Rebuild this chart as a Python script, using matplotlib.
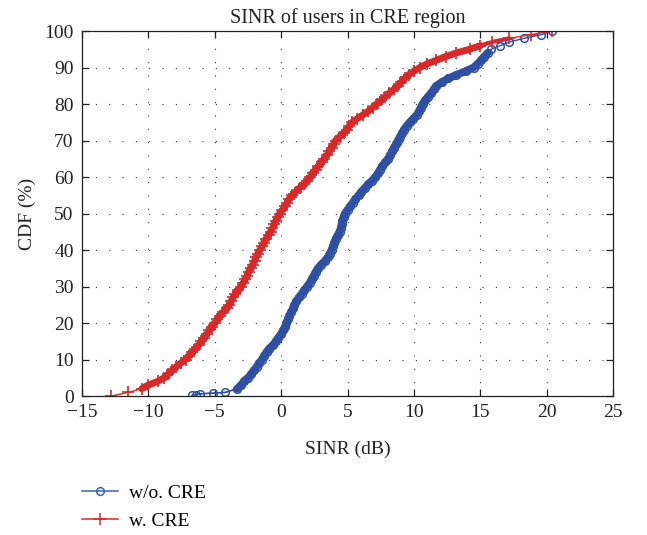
import matplotlib
matplotlib.use("Agg")
import matplotlib.pyplot as plt
from matplotlib.lines import Line2D

plt.rcParams['font.family'] = ['Liberation Serif', 'DejaVu Serif']

# ---- data (CDF in %, SINR in dB) ----
cdf_wo = [0.2, 0.4, 0.6, 0.8] + list(range(1, 101))
sinr_wo = [-6.7, -6.4, -6.1, -5.1,
           -4.2, -3.3, -3.0, -2.8, -2.5, -2.25, -2.05, -1.85, -1.65, -1.45,
           -1.3, -1.1, -0.9, -0.6, -0.4, -0.2, 0.0, 0.15, 0.3, 0.4,
           0.5, 0.6, 0.75, 0.9, 1.0, 1.15, 1.35, 1.55, 1.75, 1.95,
           2.15, 2.3, 2.45, 2.6, 2.8, 3.0, 3.3, 3.5, 3.65, 3.8,
           3.9, 4.0, 4.1, 4.25, 4.4, 4.5, 4.55, 4.6, 4.7, 4.8,
           5.0, 5.2, 5.4, 5.6, 5.85, 6.05, 6.3, 6.55, 6.85, 7.1,
           7.3, 7.45, 7.6, 7.85, 8.05, 8.2, 8.35, 8.5, 8.65, 8.8,
           8.95, 9.1, 9.25, 9.45, 9.7, 9.95, 10.2, 10.4, 10.5, 10.65,
           10.85, 11.05, 11.3, 11.5, 11.7, 12.1, 12.6, 13.2, 13.9, 14.5,
           14.8, 15.05, 15.3, 15.55, 15.8, 16.5, 17.2, 18.3, 19.6, 20.4]

cdf_w = list(range(0, 101))
sinr_w = [-12.8,
          -11.5, -10.5, -10.0, -9.3, -8.8, -8.5, -8.2, -7.9, -7.55, -7.2,
          -6.95, -6.7, -6.45, -6.2, -6.0, -5.8, -5.6, -5.4, -5.2, -5.0,
          -4.8, -4.6, -4.35, -4.1, -3.9, -3.75, -3.6, -3.45, -3.25, -3.0,
          -2.85, -2.7, -2.55, -2.45, -2.3, -2.15, -2.0, -1.9, -1.75, -1.6,
          -1.45, -1.3, -1.15, -0.95, -0.8, -0.65, -0.5, -0.4, -0.25, -0.1,
          0.1, 0.3, 0.45, 0.6, 0.85, 1.1, 1.4, 1.7, 1.95, 2.2,
          2.4, 2.6, 2.8, 3.05, 3.25, 3.45, 3.6, 3.8, 3.95, 4.1,
          4.4, 4.7, 4.95, 5.15, 5.35, 5.75, 6.15, 6.55, 6.9, 7.2,
          7.55, 7.85, 8.15, 8.5, 8.8, 9.05, 9.3, 9.6, 10.0, 10.45,
          11.0, 11.7, 12.4, 13.2, 14.2, 15.0, 15.9, 17.2, 18.8, 20.4]

series_labels = ['w/o. CRE', 'w. CRE']
x_ticks = [-15, -10, -5, 0, 5, 10, 15, 20, 25]
y_ticks = [0, 10, 20, 30, 40, 50, 60, 70, 80, 90, 100]

blue = '#2f4fa3'
red = '#d7282a'
FS = 14

fig = plt.figure(figsize=(6.47, 5.35), dpi=100)
ax = fig.add_axes([0.1267, 0.2598, 0.8208, 0.6822])

# dense band under the markers (the many overlapping samples in the original)
n_tail = 5
ax.plot(sinr_wo[n_tail:98], cdf_wo[n_tail:98], color=blue, linewidth=5.6,
        solid_capstyle='round', solid_joinstyle='round')
ax.plot(sinr_wo[:n_tail + 1], cdf_wo[:n_tail + 1], color=blue, linewidth=1.0)
ax.plot(sinr_w[2:97], cdf_w[2:97], color=red, linewidth=5.0,
        solid_capstyle='round', solid_joinstyle='round')
ax.plot(sinr_w[96:99], cdf_w[96:99], color=red, linewidth=3.0,
        solid_capstyle='round', solid_joinstyle='round')

ax.plot(sinr_wo, cdf_wo, color=blue, marker='o', markersize=5.5,
        markerfacecolor='none', markeredgewidth=1.1, linewidth=1.0)
ax.plot(sinr_w, cdf_w, color=red, marker='+', markersize=8,
        markeredgewidth=1.2, linewidth=1.0)

ax.set_xlim(-15, 25)
ax.set_ylim(0, 100)
ax.set_xticks(x_ticks)
ax.set_yticks(y_ticks)
ax.set_xticklabels(['\u2212' + str(-t) if t < 0 else str(t) for t in x_ticks])
ax.tick_params(direction='in', top=True, right=True, length=5, width=0.9,
               labelsize=FS, colors='#222222', pad=6)
for s in ax.spines.values():
    s.set_linewidth(0.9)
    s.set_color('#222222')
ax.grid(True, color='#333333', linewidth=0.8, linestyle=(0, (1, 11)))
ax.set_axisbelow(True)

ax.set_title('SINR of users in CRE region', fontsize=14.5, pad=6, color='#222222')
ax.set_xlabel('SINR (dB)', fontsize=FS, labelpad=14, color='#222222')
ax.set_ylabel('CDF (%)', fontsize=FS, labelpad=6, color='#222222')

h1 = Line2D([], [], color='#3f5fc0', marker='o', markersize=5.5,
            markerfacecolor='none', markeredgewidth=1.1, linewidth=1.1)
h2 = Line2D([], [], color=red, marker='+', markersize=8,
            markeredgewidth=1.1, linewidth=1.1)
leg = fig.legend(handles=[h1, h2], labels=series_labels, loc='upper left',
                 bbox_to_anchor=(0.126, 0.095), frameon=False, fontsize=FS,
                 handlelength=1.9, handletextpad=0.55, labelspacing=0.55,
                 borderaxespad=0, borderpad=0)

fig.savefig('out.png', dpi=100)
